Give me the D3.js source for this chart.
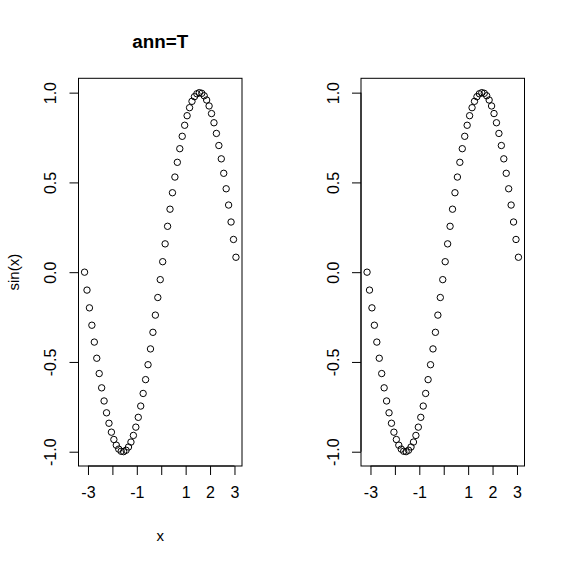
<!DOCTYPE html>
<html><head><meta charset="utf-8">
<script src="https://cdn.jsdelivr.net/npm/d3@7"></script>
<style>body{margin:0;background:#fff}svg{display:block}text{font-family:"Liberation Sans",Arial,sans-serif;fill:#000}</style>
</head><body>
<script>
const xValues = [-3.14,-3.04,-2.94,-2.84,-2.74,-2.64,-2.54,-2.44,-2.34,-2.24,-2.14,-2.04,-1.94,-1.84,-1.74,-1.64,-1.54,-1.44,-1.34,-1.24,-1.14,-1.04,-0.94,-0.84,-0.74,-0.64,-0.54,-0.44,-0.34,-0.24,-0.14,-0.04,0.06,0.16,0.26,0.36,0.46,0.56,0.66,0.76,0.86,0.96,1.06,1.16,1.26,1.36,1.46,1.56,1.66,1.76,1.86,1.96,2.06,2.16,2.26,2.36,2.46,2.56,2.66,2.76,2.86,2.96,3.06];
const yValues = [0,-0.0998,-0.1987,-0.2955,-0.3894,-0.4794,-0.5646,-0.6442,-0.7174,-0.7833,-0.8415,-0.8912,-0.9320,-0.9636,-0.9854,-0.9975,-0.9996,-0.9917,-0.9738,-0.9463,-0.9093,-0.8632,-0.8085,-0.7457,-0.6755,-0.5985,-0.5155,-0.4274,-0.3350,-0.2392,-0.1411,-0.0416,0.0584,0.1577,0.2555,0.3508,0.4425,0.5298,0.6119,0.6878,0.7568,0.8183,0.8716,0.9162,0.9516,0.9775,0.9937,0.9999,0.9962,0.9825,0.9589,0.9258,0.8835,0.8323,0.7728,0.7055,0.6313,0.5507,0.4646,0.3739,0.2794,0.1822,0.0831];
const xTicks = [-3,-2,-1,0,1,2,3];
const xTickLabels = ["-3","","-1","","1","2","3"];
const yTicks = [-1,-0.5,0,0.5,1];
const yTickLabels = ["-1.0","-0.5","0.0","0.5","1.0"];
const panels = [{title:"ann=T", xlab:"x", ylab:"sin(x)"},{title:"", xlab:"", ylab:""}];

const W=565,H=564;
const svg=d3.select("body").append("svg").attr("width",W).attr("height",H);
const pts = xValues.map((x,i)=>({x, y:yValues[i]}));
function padExt(a){const e=d3.extent(a);const p=(e[1]-e[0])*0.04;return [e[0]-p,e[1]+p];}
const xDom=padExt(xValues), yDom=padExt(yValues);
const panelW=282.5, mLeft=78.5, mRight=42.0, pTop=78.3, pBottom=466;

panels.forEach((pn,pi)=>{
  const x0=pi*panelW+mLeft, x1=(pi+1)*panelW-mRight+1.5;
  const xs=d3.scaleLinear().domain(xDom).range([x0,x1]);
  const ys=d3.scaleLinear().domain(yDom).range([pBottom,pTop]);
  const g=svg.append("g");
  g.append("rect").attr("x",x0).attr("y",pTop).attr("width",x1-x0).attr("height",pBottom-pTop)
    .attr("fill","none").attr("stroke","#000").attr("stroke-width",1);
  const xa=g.append("g").attr("transform",`translate(0,${pBottom})`)
    .call(d3.axisBottom(xs).tickValues(xTicks).tickSize(9).tickSizeOuter(0).tickPadding(12)
      .tickFormat((d,i)=>xTickLabels[i]));
  xa.select(".domain").attr("d",`M${xs(xTicks[0])},0H${xs(xTicks[xTicks.length-1])}`);
  xa.selectAll("text").attr("font-size",16).attr("font-family","Liberation Sans, Arial");
  const ya=g.append("g").attr("transform",`translate(${x0},0)`)
    .call(d3.axisLeft(ys).tickValues(yTicks).tickSize(9).tickSizeOuter(0).tickFormat((d,i)=>yTickLabels[i]));
  ya.select(".domain").attr("d",`M0,${ys(yTicks[0])}V${ys(yTicks[yTicks.length-1])}`);
  ya.selectAll(".tick text").attr("font-size",16).attr("font-family","Liberation Sans, Arial")
    .attr("x",null).attr("dy",null)
    .attr("text-anchor","middle").attr("dominant-baseline","central")
    .attr("transform","translate(-28,0) rotate(-90)");
  g.selectAll("circle.pt").data(pts).join("circle").attr("class","pt")
    .attr("cx",d=>xs(d.x)).attr("cy",d=>ys(d.y)).attr("r",3.2)
    .attr("fill","none").attr("stroke","#000").attr("stroke-width",1);
  if(pn.title) svg.append("text").attr("x",(x0+x1)/2).attr("y",48).attr("text-anchor","middle")
    .attr("font-size",18.8).attr("font-weight","bold").text(pn.title);
  if(pn.xlab) svg.append("text").attr("x",(x0+x1)/2).attr("y",541).attr("text-anchor","middle")
    .attr("font-size",15).text(pn.xlab);
  if(pn.ylab) svg.append("text").attr("transform",`translate(13,${(pTop+pBottom)/2}) rotate(-90)`)
    .attr("text-anchor","middle").attr("dominant-baseline","central").attr("font-size",15).text(pn.ylab);
});
</script>
</body></html>
